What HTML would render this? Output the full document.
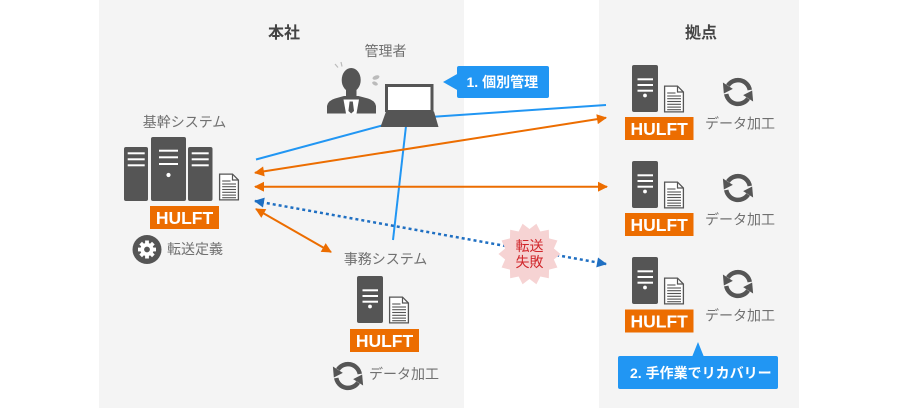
<!DOCTYPE html>
<html><head><meta charset="utf-8"><style>
html,body{margin:0;padding:0;background:#fff;}
svg{display:block;}
text{font-family:"Liberation Sans","Noto Sans CJK JP",sans-serif;}
</style></head><body>
<svg width="900" height="408" viewBox="0 0 900 408" xmlns="http://www.w3.org/2000/svg">
<defs>
<marker id="ao" viewBox="0 0 10 10" refX="9" refY="5" markerWidth="11" markerHeight="10" markerUnits="userSpaceOnUse" orient="auto-start-reverse"><path d="M0,0 L10,5 L0,10 z" fill="#ec6d00"/></marker>
<marker id="ab" viewBox="0 0 10 10" refX="9" refY="5" markerWidth="11" markerHeight="10" markerUnits="userSpaceOnUse" orient="auto-start-reverse"><path d="M0,0 L10,5 L0,10 z" fill="#1f6fc2"/></marker>
<g id="srv">
<rect x="0" y="0" width="26" height="47" rx="2" fill="#555"/>
<rect x="5.5" y="13.3" width="15.5" height="2" fill="#fff"/>
<rect x="5.5" y="19" width="15.5" height="2" fill="#fff"/>
<rect x="5.5" y="24.7" width="15.5" height="2" fill="#fff"/>
<circle cx="13" cy="30.5" r="1.9" fill="#fff"/>
</g>
<g id="doc">
<path d="M0.6,0.6 H13.5 L19.4,6.5 V26.4 H0.6 Z" fill="#fff" stroke="#555" stroke-width="1.3"/>
<path d="M13.5,0.6 V6.5 H19.4" fill="none" stroke="#555" stroke-width="1.2"/>
<g stroke="#555" stroke-width="1.1">
<line x1="3.2" y1="7.5" x2="11.5" y2="7.5"/>
<line x1="3.2" y1="10.5" x2="17" y2="10.5"/>
<line x1="3.2" y1="13.2" x2="17" y2="13.2"/>
<line x1="3.2" y1="16" x2="17" y2="16"/>
<line x1="3.2" y1="18.8" x2="17" y2="18.8"/>
<line x1="3.2" y1="21.6" x2="17" y2="21.6"/>
<line x1="3.2" y1="24.2" x2="17" y2="24.2"/>
</g>
</g>
<g id="sync">
<g>
<path d="M9.8,-1.7 A10 10 0 0 0 -8.4,-5.4" fill="none" stroke="#555" stroke-width="3.7"/>
<path d="M-4.3,-2.6 L-12.6,-7.9 L-11.8,1.2 Z" fill="#555"/>
</g>
<g transform="rotate(180)">
<path d="M9.8,-1.7 A10 10 0 0 0 -8.4,-5.4" fill="none" stroke="#555" stroke-width="3.7"/>
<path d="M-4.3,-2.6 L-12.6,-7.9 L-11.8,1.2 Z" fill="#555"/>
</g>
</g>
</defs>

<!-- panels -->
<rect x="99" y="0" width="365" height="408" fill="#f4f4f4"/>
<rect x="599" y="0" width="200" height="408" fill="#f4f4f4"/>

<!-- headers -->
<text x="284" y="38" font-size="16" font-weight="bold" fill="#444" text-anchor="middle">本社</text>
<text x="701" y="38" font-size="16" font-weight="bold" fill="#444" text-anchor="middle">拠点</text>

<!-- connector lines -->
<g stroke="#2196f3" stroke-width="2" fill="none">
<line x1="256" y1="159.5" x2="395" y2="122"/>
<line x1="430" y1="117" x2="606" y2="105"/>
<line x1="406" y1="126" x2="393" y2="240"/>
</g>
<g stroke="#ec6d00" stroke-width="2" fill="none">
<line x1="255" y1="172.8" x2="606" y2="117.8" marker-start="url(#ao)" marker-end="url(#ao)"/>
<line x1="255" y1="186.7" x2="607" y2="186.7" marker-start="url(#ao)" marker-end="url(#ao)"/>
<line x1="256" y1="209" x2="331" y2="252" marker-start="url(#ao)" marker-end="url(#ao)"/>
</g>
<line x1="255" y1="201" x2="606" y2="264" stroke="#1f6fc2" stroke-width="2.5" stroke-dasharray="3 3" marker-start="url(#ab)" marker-end="url(#ab)"/>

<!-- burst -->
<polygon fill="#f6d3d3" points="560.5,254 553.87,259.56 557.43,267.45 549.05,269.59 548.83,278.24 540.35,276.53 536.4,284.22 529.5,279 522.6,284.22 518.65,276.53 510.17,278.24 509.95,269.59 501.57,267.45 505.13,259.56 498.5,254 505.13,248.44 501.57,240.55 509.95,238.41 510.17,229.76 518.65,231.47 522.6,223.78 529.5,229 536.4,223.78 540.35,231.47 548.83,229.76 549.05,238.41 557.43,240.55 553.87,248.44"/>
<text x="529.5" y="251" font-size="14" fill="#d0262b" text-anchor="middle">転送</text>
<text x="529.5" y="267" font-size="14" fill="#d0262b" text-anchor="middle">失敗</text>

<!-- HQ core system -->
<text x="184.5" y="127" font-size="14" fill="#707070" text-anchor="middle">基幹システム</text>
<rect x="124" y="147" width="24" height="54" rx="2" fill="#555"/>
<rect x="127.7" y="152.3" width="17" height="2" fill="#fff"/>
<rect x="127.7" y="158.3" width="17" height="2" fill="#fff"/>
<rect x="127.7" y="164.3" width="17" height="2" fill="#fff"/>
<rect x="151" y="137" width="35" height="64" rx="2" fill="#555"/>
<rect x="159" y="149.7" width="19" height="2" fill="#fff"/>
<rect x="159" y="156.3" width="19" height="2" fill="#fff"/>
<rect x="159" y="163" width="19" height="2" fill="#fff"/>
<circle cx="168.5" cy="175" r="2.1" fill="#fff"/>
<rect x="188" y="147" width="24.5" height="54" rx="2" fill="#555"/>
<rect x="191.7" y="152.3" width="17" height="2" fill="#fff"/>
<rect x="191.7" y="158.3" width="17" height="2" fill="#fff"/>
<rect x="191.7" y="164.3" width="17" height="2" fill="#fff"/>
<use href="#doc" x="219" y="173.5"/>
<rect x="150" y="206" width="69" height="23" fill="#ec6d00"/>
<text x="184.5" y="224" font-size="17.5" font-weight="bold" fill="#fff" text-anchor="middle">HULFT</text>
<!-- gear -->
<circle cx="147" cy="249.5" r="14.5" fill="#555"/>
<g transform="translate(147,249.5)" fill="#fff">
<circle r="6.6"/>
<rect x="-1.9" y="-9" width="3.8" height="18"/>
<rect x="-1.9" y="-9" width="3.8" height="18" transform="rotate(45)"/>
<rect x="-1.9" y="-9" width="3.8" height="18" transform="rotate(90)"/>
<rect x="-1.9" y="-9" width="3.8" height="18" transform="rotate(135)"/>
<circle r="2.9" fill="#555"/>
</g>
<text x="167" y="254" font-size="14" fill="#707070">転送定義</text>

<!-- manager -->
<text x="385.5" y="56" font-size="14" fill="#707070" text-anchor="middle">管理者</text>
<g>
<line x1="335" y1="64" x2="338" y2="67.5" stroke="#bbb" stroke-width="1.2"/>
<line x1="341" y1="62" x2="342" y2="66.5" stroke="#bbb" stroke-width="1.2"/>
<ellipse cx="376" cy="77.5" rx="3.6" ry="2" transform="rotate(-20 376 77.5)" fill="#bbb"/>
<ellipse cx="375" cy="83.5" rx="3" ry="1.8" transform="rotate(25 375 83.5)" fill="#bbb"/>
<ellipse cx="351.2" cy="80" rx="9.5" ry="12" fill="#555"/>
<rect x="346" y="86" width="10.5" height="12" fill="#555"/>
<path d="M327,113.5 L327,106 Q328,100.5 335,98.5 L344,96 L358.5,96 L368,98.5 Q375,100.5 376,106 L376,113.5 Z" fill="#555"/>
<polygon points="343.5,99.5 359,99.5 356.5,113.5 346,113.5" fill="#fff"/>
<polygon points="349.6,101.5 352.8,101.5 354,111 351.2,113.5 348.4,111" fill="#555"/>
</g>
<!-- laptop -->
<rect x="385" y="84" width="48.5" height="28" fill="#555"/>
<rect x="388" y="87" width="42.5" height="23" fill="#fff"/>
<polygon points="386,111.5 434,111.5 438.5,127 380.5,127" fill="#555"/>

<!-- callout 1 -->
<polygon points="443,82 458,73.5 458,90.5" fill="#2196f3"/>
<rect x="457" y="66" width="92" height="32" rx="2" fill="#2196f3"/>
<text x="466.5" y="87" font-size="14" font-weight="bold" fill="#fff">1. 個別管理</text>

<!-- office system -->
<text x="385.5" y="264" font-size="14" fill="#707070" text-anchor="middle">事務システム</text>
<use href="#srv" x="357" y="276"/>
<use href="#doc" x="389" y="296.5"/>
<rect x="350" y="329" width="69" height="23" fill="#ec6d00"/>
<text x="384.5" y="347" font-size="17.5" font-weight="bold" fill="#fff" text-anchor="middle">HULFT</text>
<use href="#sync" transform="translate(348,376) scale(1.2)"/>
<text x="369" y="379" font-size="14" fill="#707070">データ加工</text>

<!-- sites -->
<use href="#srv" x="632" y="65"/>
<use href="#doc" x="664" y="85.5"/>
<rect x="625" y="117" width="68.5" height="23" fill="#ec6d00"/>
<text x="659.2" y="135" font-size="17.5" font-weight="bold" fill="#fff" text-anchor="middle">HULFT</text>
<use href="#sync" transform="translate(738,92) scale(1.2)"/>
<text x="705" y="128.5" font-size="14" fill="#707070">データ加工</text>

<use href="#srv" x="632" y="161"/>
<use href="#doc" x="664" y="181.5"/>
<rect x="625" y="213" width="68.5" height="23" fill="#ec6d00"/>
<text x="659.2" y="231" font-size="17.5" font-weight="bold" fill="#fff" text-anchor="middle">HULFT</text>
<use href="#sync" transform="translate(738,188) scale(1.2)"/>
<text x="705" y="224.5" font-size="14" fill="#707070">データ加工</text>

<use href="#srv" x="632" y="257"/>
<use href="#doc" x="664" y="277.5"/>
<rect x="625" y="309.5" width="68.5" height="23" fill="#ec6d00"/>
<text x="659.2" y="327.5" font-size="17.5" font-weight="bold" fill="#fff" text-anchor="middle">HULFT</text>
<use href="#sync" transform="translate(738,284) scale(1.2)"/>
<text x="705" y="320.5" font-size="14" fill="#707070">データ加工</text>

<!-- callout 2 -->
<polygon points="698,342 692,357 704,357" fill="#2196f3"/>
<rect x="618" y="356" width="160" height="33" rx="2" fill="#2196f3"/>
<text x="630" y="378" font-size="14" font-weight="bold" fill="#fff">2. 手作業でリカバリー</text>
</svg>
</body></html>
